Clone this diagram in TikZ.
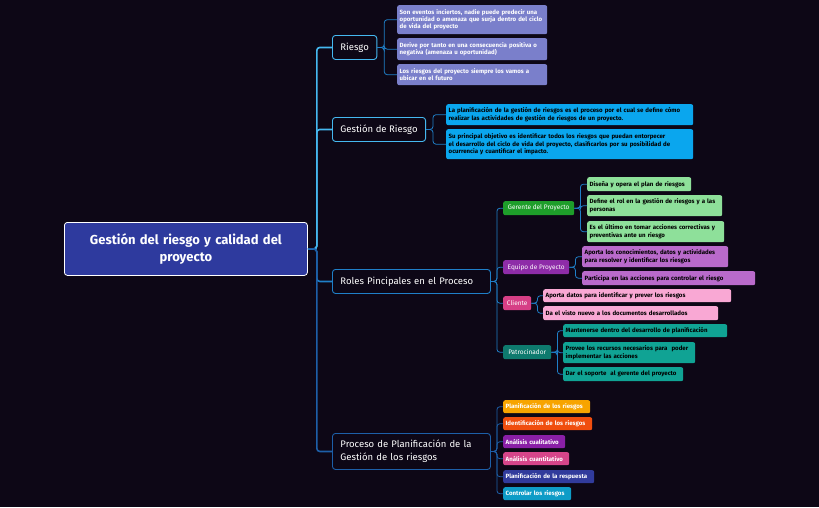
\documentclass[tikz,border=0pt]{standalone}
\usepackage{fontspec}
\setmainfont{Fira Sans}
\hyphenpenalty=10000 \exhyphenpenalty=10000
\definecolor{bg}{HTML}{0D0716}
\definecolor{cA}{HTML}{2E3A9E}
\definecolor{c1}{HTML}{45B8F0}
\definecolor{c2}{HTML}{1F7FC8}
\definecolor{c3}{HTML}{1D5FA8}
\definecolor{lr}{HTML}{7A7FCB}
\definecolor{lg}{HTML}{0AA6EE}
\definecolor{sg}{HTML}{1E9E2A}\definecolor{se}{HTML}{8E2CA8}\definecolor{sc}{HTML}{D63F86}\definecolor{sp}{HTML}{0E7A6E}
\definecolor{lgr}{HTML}{8EE09A}
\definecolor{lep}{HTML}{B96ACB}
\definecolor{lcl}{HTML}{F9A8D4}
\definecolor{lpt}{HTML}{10A394}
\begin{document}
\begin{tikzpicture}[x=1pt,y=-1pt,
 leaf/.style={anchor=north west,rounded corners=2pt,inner xsep=2.5pt,inner ysep=1pt,align=left,font=\fontsize{6.1}{7.2}\selectfont\bfseries,text=#1},
 main/.style={anchor=north west,draw=#1,line width=0.9pt,rounded corners=3pt,fill=bg,text=white,font=\fontsize{9.5}{12}\selectfont,inner xsep=8pt,align=left},
 sub/.style={anchor=north west,rounded corners=2pt,inner xsep=2.5pt,inner ysep=1pt,text=white,font=\fontsize{6.5}{7.5}\selectfont,minimum height=14pt},
 con/.style={draw=#1,line width=0.8pt,rounded corners=3pt}]
\fill[bg] (0,0) rectangle (819,507);
\useasboundingbox (0,0) rectangle (819,507);
% central
\node[anchor=north west,fill=cA,draw=white!70,line width=0.8pt,rounded corners=3pt,minimum width=243pt,minimum height=53pt,inner xsep=2pt,text width=239pt,align=center,text=white,font=\fontsize{13}{17}\selectfont\bfseries] (c) at (64,222) {Gestión del riesgo y calidad del\\proyecto};
% main branches
\node[main=c1,minimum height=24pt] (r) at (332,35) {Riesgo};
\node[main=c1,minimum height=24pt] (g) at (332,117) {Gestión de Riesgo};
\node[main=c2,minimum height=24pt,text width=142pt] (ro) at (332,269) {Roles Pincipales en el Proceso};
\node[main=c3,minimum height=36pt,text width=142pt,font=\fontsize{9.5}{13}\selectfont] (p) at (332,433) {Proceso de Planificación de la\\Gestión de los riesgos};
\foreach \n/\cc in {r/c1,g/c1,ro/c2,p/c3}{
 \draw[con=\cc,line width=1.6pt] (c.east) -- ++(9,0) |- (\n.west);
}
% Riesgo leaves
\node[leaf=white,fill=lr,text width=145pt,minimum height=29pt] (r1) at (397,5) {Son eventos inciertos, nadie puede predecir una oportunidad o amenaza que surja dentro del ciclo de vida del proyecto};
\node[leaf=white,fill=lr,text width=145pt,minimum height=22pt] (r2) at (397,38) {Derive por tanto en una consecuencia positiva o negativa (amenaza u oportunidad)};
\node[leaf=white,fill=lr,text width=145pt,minimum height=21pt] (r3) at (397,64) {Los riesgos del proyecto siempre los vamos a ubicar en el futuro};
\foreach \n in {r1,r2,r3}{\draw[con=c2] (r.east) -- ++(7,0) |- (\n.west);}
% Gestion leaves
\node[leaf=black,fill=lg,text width=242pt,minimum height=21pt] (g1) at (446,104) {La planificación de la gestión de riesgos es el proceso por el cual se define cómo realizar las actividades de gestión de riesgos de un proyecto.};
\node[leaf=black,fill=lg,text width=242pt,minimum height=30pt] (g2) at (446,129) {Su principal objetivo es identificar todos los riesgos que puedan entorpecer el desarrollo del ciclo de vida del proyecto, clasificarlos por su posibilidad de ocurrencia y cuantificar el impacto.};
\foreach \n in {g1,g2}{\draw[con=c2] (g.east) -- ++(7,0) |- (\n.west);}
% roles subs
\node[sub,fill=sg,minimum width=71pt] (s1) at (503,201) {Gerente del Proyecto};
\node[sub,fill=se,minimum width=66pt] (s2) at (503,260) {Equipo de Proyecto};
\node[sub,fill=sc,minimum width=28pt] (s3) at (503,296) {Cliente};
\node[sub,fill=sp,minimum width=48pt] (s4) at (503,345) {Patrocinador};
\foreach \n in {s1,s2,s3,s4}{\draw[con=c2] (ro.east) -- ++(6,0) |- (\n.west);}
% gerente leaves
\node[leaf=black,fill=lgr,text width=99pt,minimum height=14pt] (a1) at (587,177) {Diseña y opera el plan de riesgos};
\node[leaf=black,fill=lgr,text width=130pt,minimum height=21pt] (a2) at (587,195) {Define el rol en la gestión de riesgos y a las personas};
\node[leaf=black,fill=lgr,text width=132pt,minimum height=21pt] (a3) at (587,221) {Es el último en tomar acciones correctivas y preventivas ante un riesgo};
\foreach \n in {a1,a2,a3}{\draw[con=c2] (s1.east) -- ++(6,0) |- (\n.west);}
\node[leaf=black,fill=lep,text width=141pt,minimum height=21pt] (b1) at (582,246) {Aporta los conocimientos, datos y actividades para resolver y identificar los riesgos};
\node[leaf=black,fill=lep,text width=168pt,minimum height=14pt] (b2) at (582,271) {Participa en las acciones para controlar el riesgo};
\foreach \n in {b1,b2}{\draw[con=c2] (s2.east) -- ++(6,0) |- (\n.west);}
\node[leaf=black,fill=lcl,text width=183pt,minimum height=13pt] (d1) at (543,289) {Aporta datos para identificar y prever los riesgos};
\node[leaf=black,fill=lcl,text width=170pt,minimum height=14pt] (d2) at (543,306) {Da el visto nuevo a los documentos desarrollados};
\foreach \n in {d1,d2}{\draw[con=c2] (s3.east) -- ++(6,0) |- (\n.west);}
\node[leaf=black,fill=lpt,text width=159pt,minimum height=13pt] (e1) at (563,324) {Mantenerse dentro del desarrollo de planificación};
\node[leaf=black,fill=lpt,text width=127pt,minimum height=21pt] (e2) at (563,342) {Provee los recursos necesarios para \ poder implementar las acciones};
\node[leaf=black,fill=lpt,text width=115pt,minimum height=14pt] (e3) at (563,367) {Dar el soporte \ al gerente del proyecto};
\foreach \n in {e1,e2,e3}{\draw[con=c2] (s4.east) -- ++(6,0) |- (\n.west);}
% process leaves
\foreach \n/\y/\w/\col/\t in {f1/400/82/F7A400/Planificación de los riesgos,f2/417/84/F04E0F/Identificación de los riesgos,f3/435/57/8A1FA6/Análisis cualitativo,f4/452/61/D6458A/Análisis cuantitativo,f5/470/86/313B9C/Planificación de la respuesta,f6/487/63/0E9CC7/Controlar los riesgos}{
 \definecolor{tmp}{HTML}{\col}
 \node[leaf=white,fill=tmp,text width=\w pt,minimum height=13pt] (\n) at (503,\y) {\t};
 \draw[con=c3] (p.east) -- ++(6,0) |- (\n.west);
}
\end{tikzpicture}
\end{document}
